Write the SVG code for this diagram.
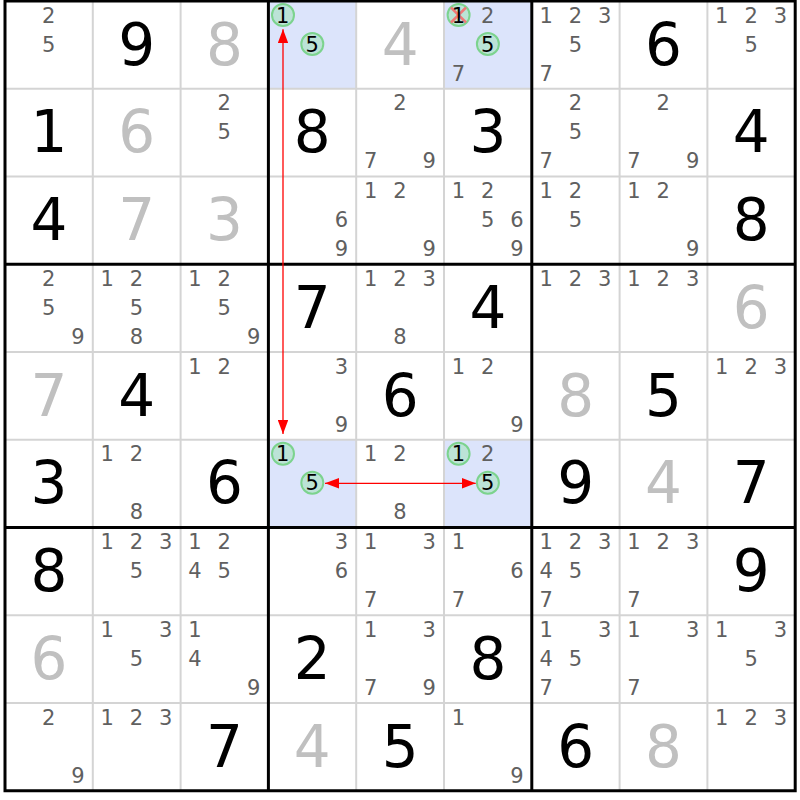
<svg xmlns="http://www.w3.org/2000/svg" width="800" height="800" viewBox="0 0 800 800">
<style>
text{font-family:"DejaVu Sans","Noto Sans",sans-serif;text-anchor:middle}
.g{font-size:58px;fill:#000}
.s{font-size:58px;fill:#c0c0c0}
.c{font-size:21px;fill:#606060}
.cb{font-size:21px;fill:#000}
.hl{fill:#dce4fb}
.ring{fill:#a6e3bf;fill-opacity:0.6;stroke:#7cd38e;stroke-width:2}
.x{stroke:#f07878;stroke-width:2.5}
.thin{stroke:#d4d4d4;stroke-width:2}
.thick{stroke:#000;stroke-width:3;fill:none}
.arr{stroke:#ff0000;stroke-width:1.3;fill:none;marker-start:url(#ah);marker-end:url(#ah)}
</style>
<defs>
<marker id="ah" viewBox="0 0 14 10.6" refX="14" refY="5.3" markerWidth="14" markerHeight="10.6" markerUnits="userSpaceOnUse" orient="auto-start-reverse">
<path d="M0,0 L14,5.3 L0,10.6 z" fill="#ff0000"/>
</marker>
</defs>
<rect x="0" y="0" width="800" height="800" fill="#fff"/>
<g id="highlights">
<rect class="hl" x="268.4" y="1" width="87.8" height="87.75"/>
<rect class="hl" x="444" y="1" width="87.8" height="87.75"/>
<rect class="hl" x="268.4" y="439.75" width="87.8" height="87.75"/>
<rect class="hl" x="444" y="439.75" width="87.8" height="87.75"/>
</g>
<g id="gridlines">
<line class="thin" x1="92.8" y1="1" x2="92.8" y2="790.75"/>
<line class="thin" x1="180.6" y1="1" x2="180.6" y2="790.75"/>
<line class="thin" x1="356.2" y1="1" x2="356.2" y2="790.75"/>
<line class="thin" x1="444" y1="1" x2="444" y2="790.75"/>
<line class="thin" x1="619.6" y1="1" x2="619.6" y2="790.75"/>
<line class="thin" x1="707.4" y1="1" x2="707.4" y2="790.75"/>
<line class="thin" x1="5" y1="88.75" x2="795.2" y2="88.75"/>
<line class="thin" x1="5" y1="176.5" x2="795.2" y2="176.5"/>
<line class="thin" x1="5" y1="352" x2="795.2" y2="352"/>
<line class="thin" x1="5" y1="439.75" x2="795.2" y2="439.75"/>
<line class="thin" x1="5" y1="615.25" x2="795.2" y2="615.25"/>
<line class="thin" x1="5" y1="703" x2="795.2" y2="703"/>
<line class="thick" x1="268.4" y1="1" x2="268.4" y2="790.75"/>
<line class="thick" x1="531.8" y1="1" x2="531.8" y2="790.75"/>
<line class="thick" x1="5" y1="264.25" x2="795.2" y2="264.25"/>
<line class="thick" x1="5" y1="527.5" x2="795.2" y2="527.5"/>
<rect class="thick" x="5" y="1" width="790.2" height="789.75"/>
</g>

<!-- Row 0 -->
<g id="r0c0" transform="translate(5,1)"><text class="c" x="43.7" y="21.6">2</text><text class="c" x="43.7" y="50.6">5</text></g>
<g id="r0c1" transform="translate(92.8,1)"><text class="g" x="43.9" y="63.5">9</text></g>
<g id="r0c2" transform="translate(180.6,1)"><text class="s" x="43.9" y="63.5">8</text></g>
<g id="r0c3" transform="translate(268.4,1)"><circle class="ring" cx="14.6" cy="14" r="11"/><circle class="ring" cx="43.9" cy="43" r="11"/><text class="cb" x="14.4" y="21.6">1</text><text class="cb" x="43.7" y="50.6">5</text></g>
<g id="r0c4" transform="translate(356.2,1)"><text class="s" x="43.9" y="63.5">4</text></g>
<g id="r0c5" transform="translate(444,1)"><circle class="ring" cx="14.6" cy="14" r="11"/><line class="x" x1="7" y1="6.5" x2="22" y2="21.5"/><line class="x" x1="22" y1="6.5" x2="7" y2="21.5"/><circle class="ring" cx="43.9" cy="43" r="11"/><text class="cb" x="14.4" y="21.6">1</text><text class="c" x="43.7" y="21.6">2</text><text class="cb" x="43.7" y="50.6">5</text><text class="c" x="14.4" y="79.6">7</text></g>
<g id="r0c6" transform="translate(531.8,1)"><text class="c" x="14.4" y="21.6">1</text><text class="c" x="43.7" y="21.6">2</text><text class="c" x="73" y="21.6">3</text><text class="c" x="43.7" y="50.6">5</text><text class="c" x="14.4" y="79.6">7</text></g>
<g id="r0c7" transform="translate(619.6,1)"><text class="g" x="43.9" y="63.5">6</text></g>
<g id="r0c8" transform="translate(707.4,1)"><text class="c" x="14.4" y="21.6">1</text><text class="c" x="43.7" y="21.6">2</text><text class="c" x="73" y="21.6">3</text><text class="c" x="43.7" y="50.6">5</text></g>

<!-- Row 1 -->
<g id="r1c0" transform="translate(5,88.75)"><text class="g" x="43.9" y="63.5">1</text></g>
<g id="r1c1" transform="translate(92.8,88.75)"><text class="s" x="43.9" y="63.5">6</text></g>
<g id="r1c2" transform="translate(180.6,88.75)"><text class="c" x="43.7" y="21.6">2</text><text class="c" x="43.7" y="50.6">5</text></g>
<g id="r1c3" transform="translate(268.4,88.75)"><text class="g" x="43.9" y="63.5">8</text></g>
<g id="r1c4" transform="translate(356.2,88.75)"><text class="c" x="43.7" y="21.6">2</text><text class="c" x="14.4" y="79.6">7</text><text class="c" x="73" y="79.6">9</text></g>
<g id="r1c5" transform="translate(444,88.75)"><text class="g" x="43.9" y="63.5">3</text></g>
<g id="r1c6" transform="translate(531.8,88.75)"><text class="c" x="43.7" y="21.6">2</text><text class="c" x="43.7" y="50.6">5</text><text class="c" x="14.4" y="79.6">7</text></g>
<g id="r1c7" transform="translate(619.6,88.75)"><text class="c" x="43.7" y="21.6">2</text><text class="c" x="14.4" y="79.6">7</text><text class="c" x="73" y="79.6">9</text></g>
<g id="r1c8" transform="translate(707.4,88.75)"><text class="g" x="43.9" y="63.5">4</text></g>

<!-- Row 2 -->
<g id="r2c0" transform="translate(5,176.5)"><text class="g" x="43.9" y="63.5">4</text></g>
<g id="r2c1" transform="translate(92.8,176.5)"><text class="s" x="43.9" y="63.5">7</text></g>
<g id="r2c2" transform="translate(180.6,176.5)"><text class="s" x="43.9" y="63.5">3</text></g>
<g id="r2c3" transform="translate(268.4,176.5)"><text class="c" x="73" y="50.6">6</text><text class="c" x="73" y="79.6">9</text></g>
<g id="r2c4" transform="translate(356.2,176.5)"><text class="c" x="14.4" y="21.6">1</text><text class="c" x="43.7" y="21.6">2</text><text class="c" x="73" y="79.6">9</text></g>
<g id="r2c5" transform="translate(444,176.5)"><text class="c" x="14.4" y="21.6">1</text><text class="c" x="43.7" y="21.6">2</text><text class="c" x="43.7" y="50.6">5</text><text class="c" x="73" y="50.6">6</text><text class="c" x="73" y="79.6">9</text></g>
<g id="r2c6" transform="translate(531.8,176.5)"><text class="c" x="14.4" y="21.6">1</text><text class="c" x="43.7" y="21.6">2</text><text class="c" x="43.7" y="50.6">5</text></g>
<g id="r2c7" transform="translate(619.6,176.5)"><text class="c" x="14.4" y="21.6">1</text><text class="c" x="43.7" y="21.6">2</text><text class="c" x="73" y="79.6">9</text></g>
<g id="r2c8" transform="translate(707.4,176.5)"><text class="g" x="43.9" y="63.5">8</text></g>

<!-- Row 3 -->
<g id="r3c0" transform="translate(5,264.25)"><text class="c" x="43.7" y="21.6">2</text><text class="c" x="43.7" y="50.6">5</text><text class="c" x="73" y="79.6">9</text></g>
<g id="r3c1" transform="translate(92.8,264.25)"><text class="c" x="14.4" y="21.6">1</text><text class="c" x="43.7" y="21.6">2</text><text class="c" x="43.7" y="50.6">5</text><text class="c" x="43.7" y="79.6">8</text></g>
<g id="r3c2" transform="translate(180.6,264.25)"><text class="c" x="14.4" y="21.6">1</text><text class="c" x="43.7" y="21.6">2</text><text class="c" x="43.7" y="50.6">5</text><text class="c" x="73" y="79.6">9</text></g>
<g id="r3c3" transform="translate(268.4,264.25)"><text class="g" x="43.9" y="63.5">7</text></g>
<g id="r3c4" transform="translate(356.2,264.25)"><text class="c" x="14.4" y="21.6">1</text><text class="c" x="43.7" y="21.6">2</text><text class="c" x="73" y="21.6">3</text><text class="c" x="43.7" y="79.6">8</text></g>
<g id="r3c5" transform="translate(444,264.25)"><text class="g" x="43.9" y="63.5">4</text></g>
<g id="r3c6" transform="translate(531.8,264.25)"><text class="c" x="14.4" y="21.6">1</text><text class="c" x="43.7" y="21.6">2</text><text class="c" x="73" y="21.6">3</text></g>
<g id="r3c7" transform="translate(619.6,264.25)"><text class="c" x="14.4" y="21.6">1</text><text class="c" x="43.7" y="21.6">2</text><text class="c" x="73" y="21.6">3</text></g>
<g id="r3c8" transform="translate(707.4,264.25)"><text class="s" x="43.9" y="63.5">6</text></g>

<!-- Row 4 -->
<g id="r4c0" transform="translate(5,352)"><text class="s" x="43.9" y="63.5">7</text></g>
<g id="r4c1" transform="translate(92.8,352)"><text class="g" x="43.9" y="63.5">4</text></g>
<g id="r4c2" transform="translate(180.6,352)"><text class="c" x="14.4" y="21.6">1</text><text class="c" x="43.7" y="21.6">2</text></g>
<g id="r4c3" transform="translate(268.4,352)"><text class="c" x="73" y="21.6">3</text><text class="c" x="73" y="79.6">9</text></g>
<g id="r4c4" transform="translate(356.2,352)"><text class="g" x="43.9" y="63.5">6</text></g>
<g id="r4c5" transform="translate(444,352)"><text class="c" x="14.4" y="21.6">1</text><text class="c" x="43.7" y="21.6">2</text><text class="c" x="73" y="79.6">9</text></g>
<g id="r4c6" transform="translate(531.8,352)"><text class="s" x="43.9" y="63.5">8</text></g>
<g id="r4c7" transform="translate(619.6,352)"><text class="g" x="43.9" y="63.5">5</text></g>
<g id="r4c8" transform="translate(707.4,352)"><text class="c" x="14.4" y="21.6">1</text><text class="c" x="43.7" y="21.6">2</text><text class="c" x="73" y="21.6">3</text></g>

<!-- Row 5 -->
<g id="r5c0" transform="translate(5,439.75)"><text class="g" x="43.9" y="63.5">3</text></g>
<g id="r5c1" transform="translate(92.8,439.75)"><text class="c" x="14.4" y="21.6">1</text><text class="c" x="43.7" y="21.6">2</text><text class="c" x="43.7" y="79.6">8</text></g>
<g id="r5c2" transform="translate(180.6,439.75)"><text class="g" x="43.9" y="63.5">6</text></g>
<g id="r5c3" transform="translate(268.4,439.75)"><circle class="ring" cx="14.6" cy="14" r="11"/><circle class="ring" cx="43.9" cy="43" r="11"/><text class="cb" x="14.4" y="21.6">1</text><text class="cb" x="43.7" y="50.6">5</text></g>
<g id="r5c4" transform="translate(356.2,439.75)"><text class="c" x="14.4" y="21.6">1</text><text class="c" x="43.7" y="21.6">2</text><text class="c" x="43.7" y="79.6">8</text></g>
<g id="r5c5" transform="translate(444,439.75)"><circle class="ring" cx="14.6" cy="14" r="11"/><circle class="ring" cx="43.9" cy="43" r="11"/><text class="cb" x="14.4" y="21.6">1</text><text class="c" x="43.7" y="21.6">2</text><text class="cb" x="43.7" y="50.6">5</text></g>
<g id="r5c6" transform="translate(531.8,439.75)"><text class="g" x="43.9" y="63.5">9</text></g>
<g id="r5c7" transform="translate(619.6,439.75)"><text class="s" x="43.9" y="63.5">4</text></g>
<g id="r5c8" transform="translate(707.4,439.75)"><text class="g" x="43.9" y="63.5">7</text></g>

<!-- Row 6 -->
<g id="r6c0" transform="translate(5,527.5)"><text class="g" x="43.9" y="63.5">8</text></g>
<g id="r6c1" transform="translate(92.8,527.5)"><text class="c" x="14.4" y="21.6">1</text><text class="c" x="43.7" y="21.6">2</text><text class="c" x="73" y="21.6">3</text><text class="c" x="43.7" y="50.6">5</text></g>
<g id="r6c2" transform="translate(180.6,527.5)"><text class="c" x="14.4" y="21.6">1</text><text class="c" x="43.7" y="21.6">2</text><text class="c" x="14.4" y="50.6">4</text><text class="c" x="43.7" y="50.6">5</text></g>
<g id="r6c3" transform="translate(268.4,527.5)"><text class="c" x="73" y="21.6">3</text><text class="c" x="73" y="50.6">6</text></g>
<g id="r6c4" transform="translate(356.2,527.5)"><text class="c" x="14.4" y="21.6">1</text><text class="c" x="73" y="21.6">3</text><text class="c" x="14.4" y="79.6">7</text></g>
<g id="r6c5" transform="translate(444,527.5)"><text class="c" x="14.4" y="21.6">1</text><text class="c" x="73" y="50.6">6</text><text class="c" x="14.4" y="79.6">7</text></g>
<g id="r6c6" transform="translate(531.8,527.5)"><text class="c" x="14.4" y="21.6">1</text><text class="c" x="43.7" y="21.6">2</text><text class="c" x="73" y="21.6">3</text><text class="c" x="14.4" y="50.6">4</text><text class="c" x="43.7" y="50.6">5</text><text class="c" x="14.4" y="79.6">7</text></g>
<g id="r6c7" transform="translate(619.6,527.5)"><text class="c" x="14.4" y="21.6">1</text><text class="c" x="43.7" y="21.6">2</text><text class="c" x="73" y="21.6">3</text><text class="c" x="14.4" y="79.6">7</text></g>
<g id="r6c8" transform="translate(707.4,527.5)"><text class="g" x="43.9" y="63.5">9</text></g>

<!-- Row 7 -->
<g id="r7c0" transform="translate(5,615.25)"><text class="s" x="43.9" y="63.5">6</text></g>
<g id="r7c1" transform="translate(92.8,615.25)"><text class="c" x="14.4" y="21.6">1</text><text class="c" x="73" y="21.6">3</text><text class="c" x="43.7" y="50.6">5</text></g>
<g id="r7c2" transform="translate(180.6,615.25)"><text class="c" x="14.4" y="21.6">1</text><text class="c" x="14.4" y="50.6">4</text><text class="c" x="73" y="79.6">9</text></g>
<g id="r7c3" transform="translate(268.4,615.25)"><text class="g" x="43.9" y="63.5">2</text></g>
<g id="r7c4" transform="translate(356.2,615.25)"><text class="c" x="14.4" y="21.6">1</text><text class="c" x="73" y="21.6">3</text><text class="c" x="14.4" y="79.6">7</text><text class="c" x="73" y="79.6">9</text></g>
<g id="r7c5" transform="translate(444,615.25)"><text class="g" x="43.9" y="63.5">8</text></g>
<g id="r7c6" transform="translate(531.8,615.25)"><text class="c" x="14.4" y="21.6">1</text><text class="c" x="73" y="21.6">3</text><text class="c" x="14.4" y="50.6">4</text><text class="c" x="43.7" y="50.6">5</text><text class="c" x="14.4" y="79.6">7</text></g>
<g id="r7c7" transform="translate(619.6,615.25)"><text class="c" x="14.4" y="21.6">1</text><text class="c" x="73" y="21.6">3</text><text class="c" x="14.4" y="79.6">7</text></g>
<g id="r7c8" transform="translate(707.4,615.25)"><text class="c" x="14.4" y="21.6">1</text><text class="c" x="73" y="21.6">3</text><text class="c" x="43.7" y="50.6">5</text></g>

<!-- Row 8 -->
<g id="r8c0" transform="translate(5,703)"><text class="c" x="43.7" y="21.6">2</text><text class="c" x="73" y="79.6">9</text></g>
<g id="r8c1" transform="translate(92.8,703)"><text class="c" x="14.4" y="21.6">1</text><text class="c" x="43.7" y="21.6">2</text><text class="c" x="73" y="21.6">3</text></g>
<g id="r8c2" transform="translate(180.6,703)"><text class="g" x="43.9" y="63.5">7</text></g>
<g id="r8c3" transform="translate(268.4,703)"><text class="s" x="43.9" y="63.5">4</text></g>
<g id="r8c4" transform="translate(356.2,703)"><text class="g" x="43.9" y="63.5">5</text></g>
<g id="r8c5" transform="translate(444,703)"><text class="c" x="14.4" y="21.6">1</text><text class="c" x="73" y="79.6">9</text></g>
<g id="r8c6" transform="translate(531.8,703)"><text class="g" x="43.9" y="63.5">6</text></g>
<g id="r8c7" transform="translate(619.6,703)"><text class="s" x="43.9" y="63.5">8</text></g>
<g id="r8c8" transform="translate(707.4,703)"><text class="c" x="14.4" y="21.6">1</text><text class="c" x="43.7" y="21.6">2</text><text class="c" x="73" y="21.6">3</text></g>

<g id="connectors">
<line class="arr" x1="283" y1="29.3" x2="283" y2="434"/>
<line class="arr" x1="325" y1="483.3" x2="475.7" y2="483.3"/>
</g>
</svg>
